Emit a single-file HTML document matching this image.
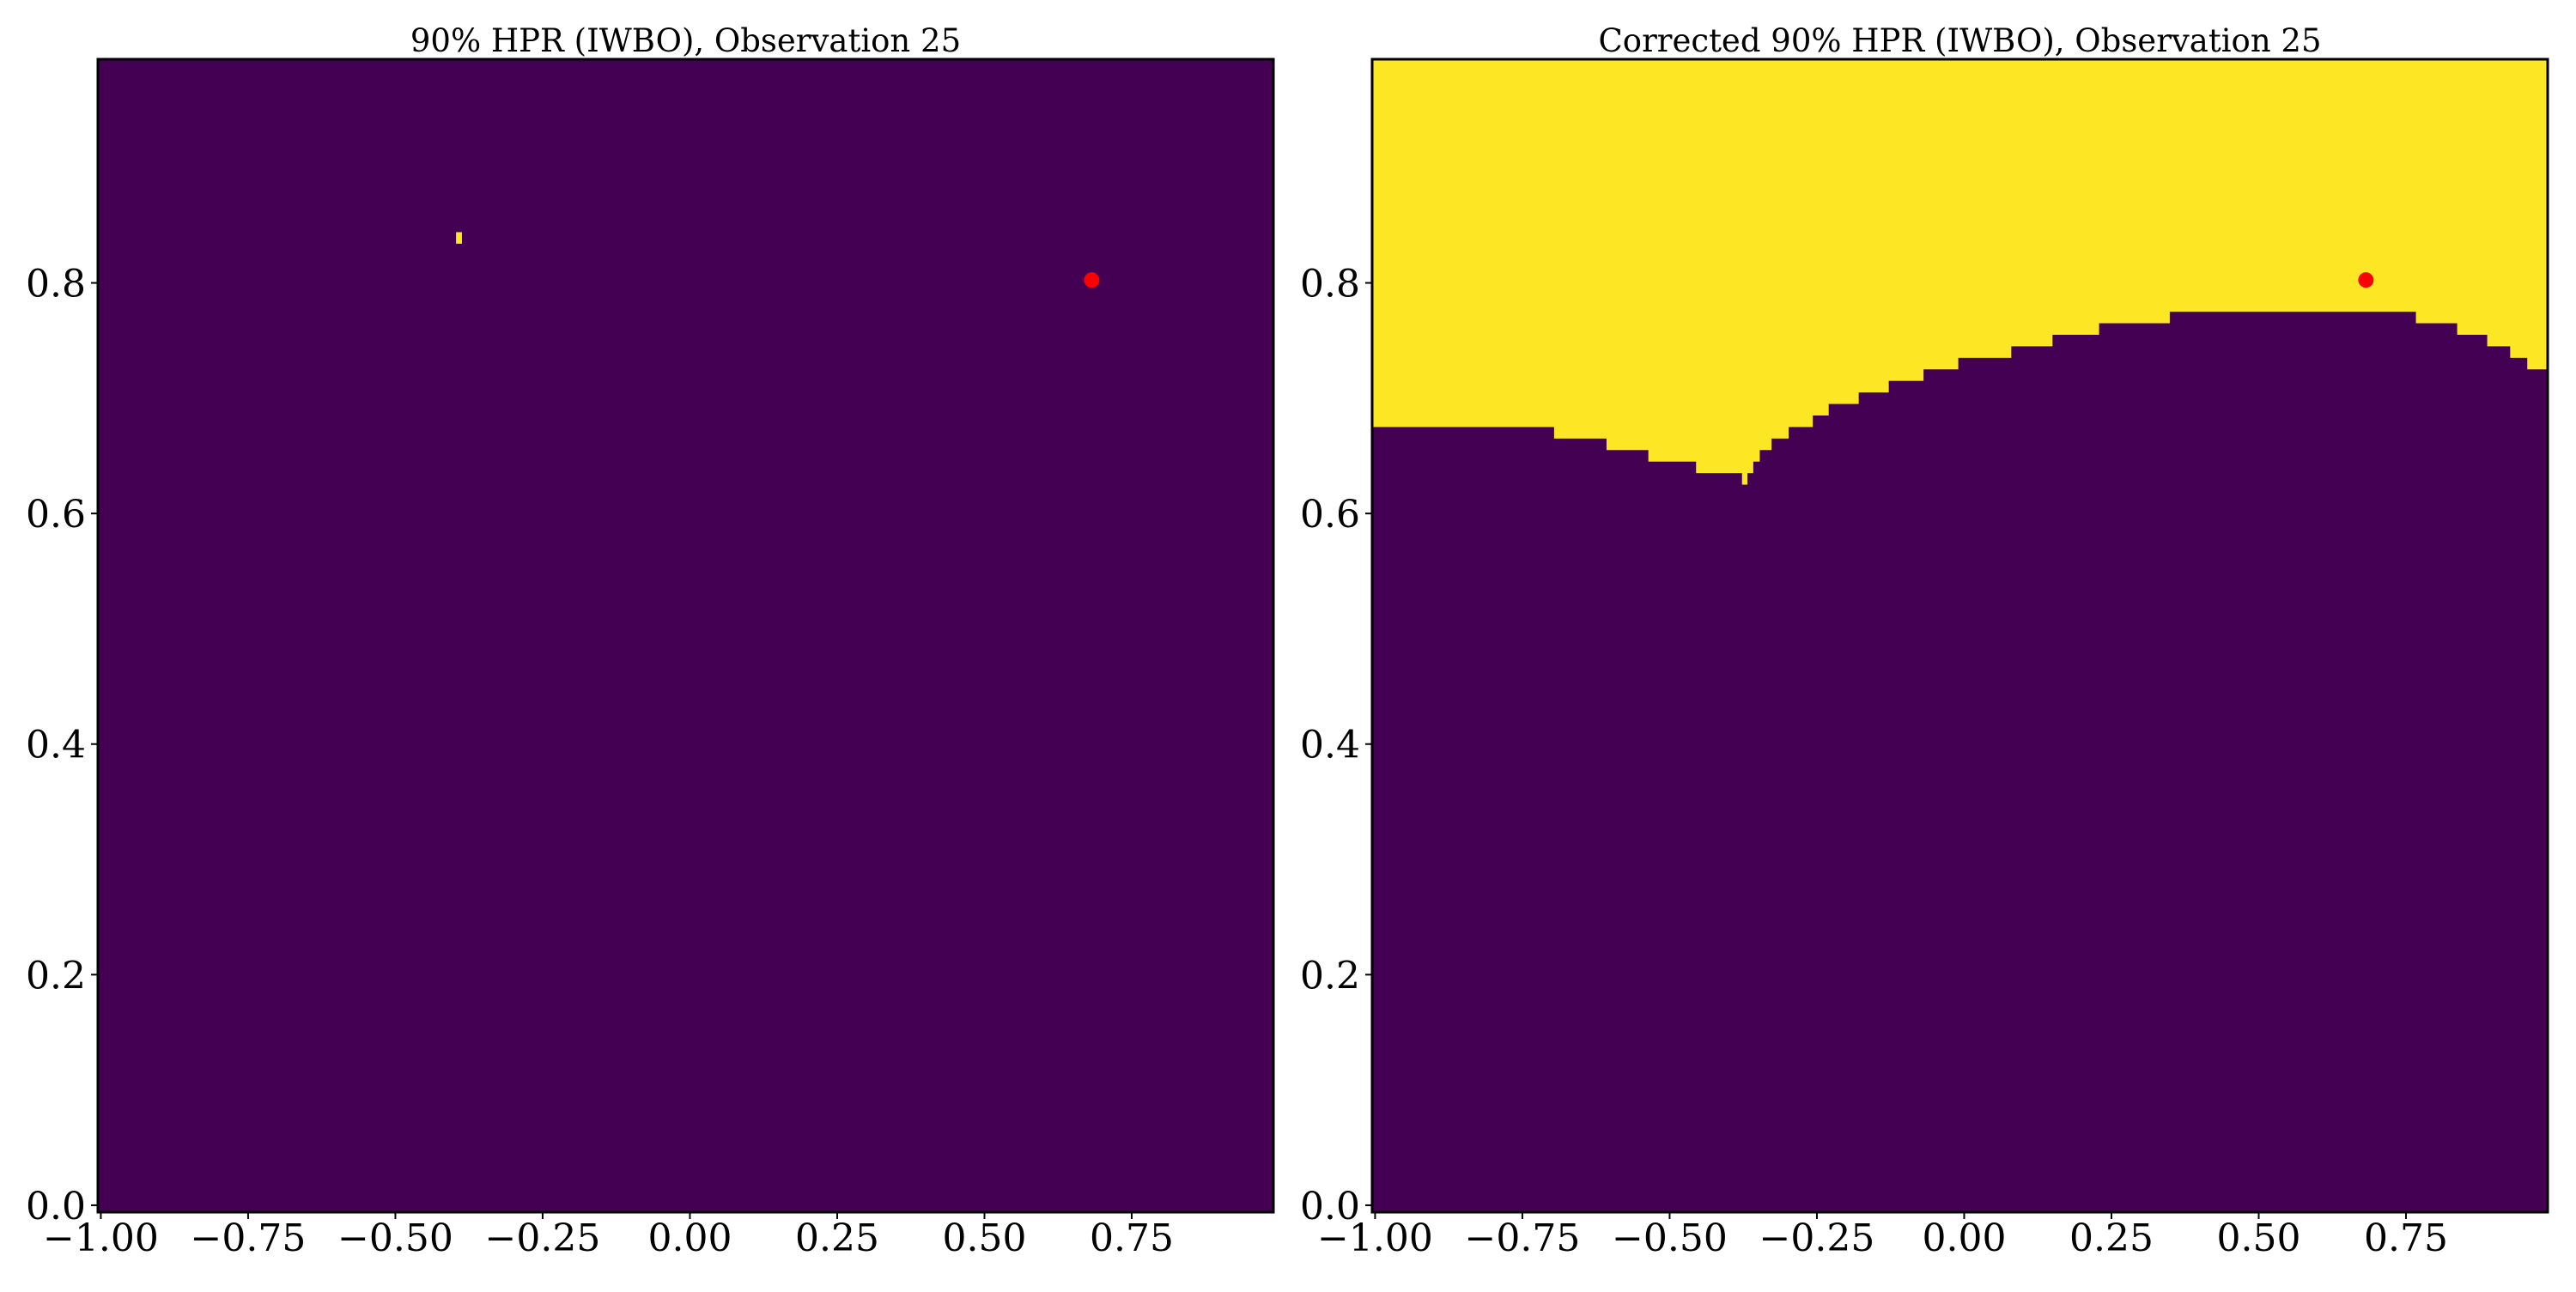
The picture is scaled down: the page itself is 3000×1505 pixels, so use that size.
<!DOCTYPE html>
<html><head><meta charset="utf-8"><style>
html,body{margin:0;padding:0;background:#fff;}
svg text{font-family:"DejaVu Serif","Liberation Serif",serif;fill:#000;}
</style></head><body>
<svg id="chart" width="3000" height="1500" viewBox="0 0 3000 1500" xmlns="http://www.w3.org/2000/svg"></svg>
<script>
const xTicks=[-1.00,-0.75,-0.50,-0.25,0.00,0.25,0.50,0.75];
const xTickLabels=["\u22121.00","\u22120.75","\u22120.50","\u22120.25","0.00","0.25","0.50","0.75"];
const yTicks=[0.0,0.2,0.4,0.6,0.8];
const yTickLabels=["0.0","0.2","0.4","0.6","0.8"];
const observedPoint=[0.682,0.8025];
const leftRegionCell=[-0.397,-0.387,0.834,0.844];
const boundaryStarts=[-1.005,-0.697,-0.608,-0.537,-0.456,-0.378,-0.368,-0.358,-0.347,-0.327,-0.298,-0.257,-0.230,-0.179,-0.128,-0.069,-0.010,0.080,0.150,0.229,0.349,0.766,0.836,0.887,0.926,0.955];
const boundaryLevels=[0.675,0.665,0.655,0.645,0.635,0.625,0.635,0.645,0.655,0.665,0.675,0.685,0.695,0.705,0.715,0.725,0.735,0.745,0.755,0.765,0.775,0.765,0.755,0.745,0.735,0.725];
const titles=["90% HPR (IWBO), Observation 25","Corrected 90% HPR (IWBO), Observation 25"];

const NS="http://www.w3.org/2000/svg";
const svg=document.getElementById('chart');
const XMIN=-1.005,XMAX=0.9905,YMIN=-0.006,YMAX=0.994;
const TOP=69,BOT=1412,W=1369;
const PURPLE="#440154",YELLOW="#fde725";
function mk(tag,attrs,parent){const e=document.createElementNS(NS,tag);for(const k in attrs)e.setAttribute(k,attrs[k]);(parent||svg).appendChild(e);return e;}

[114,1598].forEach((L,pi)=>{
  const sx=v=>L+(v-XMIN)/(XMAX-XMIN)*W;
  const sy=v=>BOT-(v-YMIN)/(YMAX-YMIN)*(BOT-TOP);
  const g=mk('g',{});
  
  
  const bg=mk('rect',{x:L,y:TOP,width:W,height:BOT-TOP,fill:pi===0?PURPLE:YELLOW},g);
  
  
  if(pi===0){
    const c=mk('rect',{x:sx(leftRegionCell[0]),y:sy(leftRegionCell[3]),width:sx(leftRegionCell[1])-sx(leftRegionCell[0]),height:sy(leftRegionCell[2])-sy(leftRegionCell[3]),fill:YELLOW},g);
    
    
  } else {
    for(let i=0;i<boundaryStarts.length;i++){
      const x0=sx(boundaryStarts[i]);
      const x1=i+1<boundaryStarts.length?sx(boundaryStarts[i+1]):L+W;
      const yt=sy(boundaryLevels[i]);
      const r=mk('rect',{x:x0,y:yt,width:x1-x0+0.6,height:BOT-yt,fill:PURPLE},g);
      
      
    }
  }
  const dot=mk('ellipse',{cx:sx(observedPoint[0]),cy:sy(observedPoint[1]),rx:9,ry:9,fill:'#ff0000'},g);
  
  
  const fr=mk('rect',{x:L,y:TOP,width:W,height:BOT-TOP,fill:'none',stroke:'#000','stroke-width':3},g);
  
  
  xTicks.forEach((v,i)=>{
    const x=sx(v);
    const t=mk('line',{x1:x,y1:BOT,x2:x,y2:BOT+8,stroke:'#000','stroke-width':2},g);
    
    
    const tx=mk('text',{x:x,y:1457,'font-size':44,'text-anchor':'middle'},g);
    tx.textContent=xTickLabels[i];
    
    
  });
  yTicks.forEach((v,i)=>{
    const y=sy(v);
    const t=mk('line',{x1:L-8,y1:y,x2:L,y2:y,stroke:'#000','stroke-width':2},g);
    
    
    const tx=mk('text',{x:L-14,y:y+16,'font-size':44,'text-anchor':'end'},g);
    tx.textContent=yTickLabels[i];
    
    
  });
  const ti=mk('text',{x:L+W/2,y:60,'font-size':37,'text-anchor':'middle'},g);
  ti.textContent=titles[pi];
  
  
});
</script>
</body></html>
